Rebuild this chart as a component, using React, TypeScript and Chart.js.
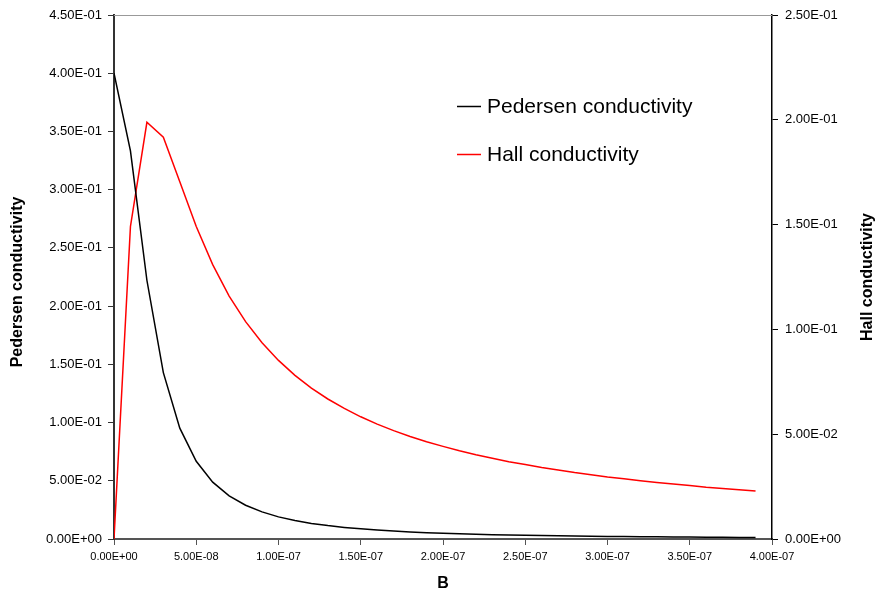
import React, { useEffect, useRef } from 'react';
import { Chart, registerables } from 'chart.js';

Chart.register(...registerables);

// ---- data ----
const bValues = [
  0, 1e-8, 2e-8, 3e-8, 4e-8, 5e-8, 6e-8, 7e-8, 8e-8, 9e-8,
  10e-8, 11e-8, 12e-8, 13e-8, 14e-8, 15e-8, 16e-8, 17e-8, 18e-8, 19e-8,
  20e-8, 21e-8, 22e-8, 23e-8, 24e-8, 25e-8, 26e-8, 27e-8, 28e-8, 29e-8,
  30e-8, 31e-8, 32e-8, 33e-8, 34e-8, 35e-8, 36e-8, 37e-8, 38e-8, 39e-8,
];
const pedersen = [
  0.4, 0.3333, 0.2222, 0.1429, 0.0952, 0.0667, 0.0488, 0.037, 0.029, 0.0233,
  0.019, 0.0159, 0.0134, 0.0115, 0.00995, 0.0087, 0.00766, 0.0068, 0.00608, 0.00546,
  0.00494, 0.00448, 0.00409, 0.00375, 0.00344, 0.00317, 0.00294, 0.00272, 0.00253, 0.00236,
  0.00221, 0.00207, 0.00194, 0.00183, 0.00172, 0.00163, 0.00154, 0.00146, 0.00138, 0.00131,
];
const hall = [
  0, 0.1491, 0.1988, 0.1917, 0.1704, 0.1491, 0.1309, 0.1159, 0.1037, 0.0936,
  0.0852, 0.0781, 0.072, 0.0668, 0.0623, 0.0583, 0.0548, 0.0517, 0.0489, 0.0464,
  0.0442, 0.0421, 0.0402, 0.0385, 0.0369, 0.0355, 0.0341, 0.0329, 0.0317, 0.0307,
  0.0296, 0.0287, 0.0278, 0.027, 0.0262, 0.0255, 0.0247, 0.0241, 0.0235, 0.0229,
];
const seriesNames = ['Pedersen conductivity', 'Hall conductivity'];
const xTitle = 'B';
const leftTitle = 'Pedersen conductivity';
const rightTitle = 'Hall conductivity';
const xRange = [0, 4e-7, 5e-8];
const leftRange = [0, 0.45, 0.05];
const rightRange = [0, 0.25, 0.05];

const FONT = '"Liberation Sans", Arial, Helvetica, sans-serif';

function fmtE(v: number): string {
  const [m, e] = Number(v).toExponential(2).split('e');
  const ei = parseInt(e, 10);
  return m + 'E' + (ei < 0 ? '-' : '+') + String(Math.abs(ei)).padStart(2, '0');
}

const decorPlugin = {
  id: 'decor',
  afterDraw(chart: any) {
    const ctx = chart.ctx as CanvasRenderingContext2D;
    const a = chart.chartArea;
    ctx.save();
    // top frame line
    ctx.strokeStyle = '#999999';
    ctx.lineWidth = 1;
    ctx.beginPath();
    ctx.moveTo(a.left, a.top + 0.5);
    ctx.lineTo(a.right, a.top + 0.5);
    ctx.stroke();

    // axis titles
    ctx.fillStyle = '#000';
    ctx.font = `bold 16px ${FONT}`;
    ctx.textAlign = 'center';
    ctx.textBaseline = 'middle';
    const midY = (a.top + a.bottom) / 2;
    ctx.save();
    ctx.translate(18, midY + 5);
    ctx.rotate(-Math.PI / 2);
    ctx.fillText(leftTitle, 0, 0);
    ctx.restore();
    ctx.save();
    ctx.translate(868, midY);
    ctx.rotate(-Math.PI / 2);
    ctx.fillText(rightTitle, 0, 0);
    ctx.restore();
    ctx.fillText(xTitle, (a.left + a.right) / 2, 584);

    // legend
    const ds = chart.data.datasets;
    const lx = 457;
    const ly = [106, 154];
    ctx.font = `21px ${FONT}`;
    ctx.textAlign = 'left';
    ds.forEach((d: any, i: number) => {
      ctx.strokeStyle = d.borderColor;
      ctx.lineWidth = 1.5;
      ctx.beginPath();
      ctx.moveTo(lx, ly[i] + 0.5);
      ctx.lineTo(lx + 24, ly[i] + 0.5);
      ctx.stroke();
      ctx.fillStyle = '#000';
      ctx.fillText(d.label, lx + 30, ly[i] + 1);
    });
    ctx.restore();
  },
};

export default function App() {
  const ref = useRef<HTMLCanvasElement | null>(null);
  useEffect(() => {
    if (!ref.current) return;
    const chart = new Chart(ref.current, {
      type: 'line',
      data: {
        datasets: [
          {
            label: seriesNames[0],
            data: bValues.map((b, i) => ({ x: b, y: pedersen[i] })),
            borderColor: '#000000',
            borderWidth: 1.5,
            pointRadius: 0,
            tension: 0,
            yAxisID: 'y',
          },
          {
            label: seriesNames[1],
            data: bValues.map((b, i) => ({ x: b, y: hall[i] })),
            borderColor: '#ff0000',
            borderWidth: 1.5,
            pointRadius: 0,
            tension: 0,
            yAxisID: 'y1',
          },
        ],
      },
      options: {
        responsive: false,
        animation: false,
        devicePixelRatio: 1,
        layout: { padding: { top: 15, left: 0, right: 0, bottom: 0 } },
        plugins: {
          legend: { display: false },
          tooltip: { enabled: false },
        },
        scales: {
          x: {
            type: 'linear',
            min: xRange[0],
            max: xRange[1],
            afterFit: (s: any) => { s.height = 58; },
            border: { display: true, color: '#555555', width: 2 },
            grid: { drawOnChartArea: false, drawTicks: true, tickLength: 6, tickColor: '#555555', tickWidth: 1 },
            ticks: {
              stepSize: xRange[2],
              autoSkip: false,
              maxRotation: 0,
              padding: 5,
              color: '#000',
              font: { family: FONT, size: 11 },
              callback: (v: any) => fmtE(Number(v)),
            },
          },
          y: {
            type: 'linear',
            position: 'left',
            min: leftRange[0],
            max: leftRange[1],
            afterFit: (s: any) => { s.width = 114; },
            border: { display: true, color: '#333333', width: 2 },
            grid: { drawOnChartArea: false, drawTicks: true, tickLength: 6, tickColor: '#333333', tickWidth: 1 },
            ticks: {
              stepSize: leftRange[2],
              autoSkip: false,
              padding: 6,
              color: '#000',
              font: { family: FONT, size: 13 },
              callback: (v: any) => fmtE(Number(v)),
            },
          },
          y1: {
            type: 'linear',
            position: 'right',
            min: rightRange[0],
            max: rightRange[1],
            afterFit: (s: any) => { s.width = 107; },
            border: { display: true, color: '#000000', width: 1.5 },
            grid: { drawOnChartArea: false, drawTicks: true, tickLength: 6, tickColor: '#000000', tickWidth: 1 },
            ticks: {
              stepSize: rightRange[2],
              autoSkip: false,
              padding: 7,
              color: '#000',
              font: { family: FONT, size: 13 },
              callback: (v: any) => fmtE(Number(v)),
            },
          },
        },
      },
      plugins: [decorPlugin],
    } as any);
    return () => chart.destroy();
  }, []);

  return (
    <div style={{ position: 'fixed', left: 0, top: 0, width: 879, height: 597, background: '#fff' }}>
      <canvas ref={ref} width={879} height={597} style={{ width: 879, height: 597, display: 'block' }} />
    </div>
  );
}
